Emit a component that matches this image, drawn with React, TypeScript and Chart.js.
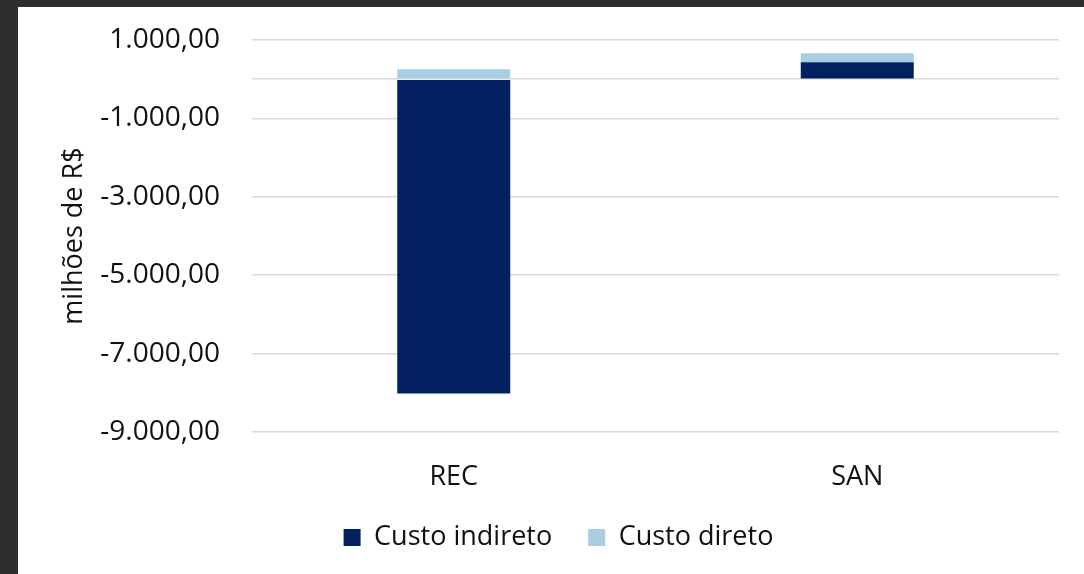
import React, { useEffect, useRef } from "react";
import { Chart, registerables } from "chart.js";

Chart.register(...registerables);

const categories = ["REC", "SAN"];
const custoIndireto = [-8020, 435];
const custoDireto = [255, 225];
const yTicks = [-9000, -7000, -5000, -3000, -1000, 0, 1000];

const FONT = "'Open Sans', 'Noto Sans', sans-serif";
const FS = 27;
const LEGEND_PAD = 36;

const fmt = (v: number) => {
  const s = Math.abs(v).toFixed(2).split(".");
  const int = s[0].replace(/\B(?=(\d{3})+(?!\d))/g, ".");
  return (v < 0 ? "-" : "") + int + "," + s[1];
};

const shiftLegend = {
  id: "shiftLegend",
  afterLayout(chart: any) {
    const l = chart.legend;
    if (l) {
      l.left += 20;
      l.right += 20;
    }
  },
};

export default function App() {
  const ref = useRef<HTMLCanvasElement | null>(null);
  useEffect(() => {
    if (!ref.current) return;
    const chart = new Chart(ref.current, {
      type: "bar",
      data: {
        labels: categories,
        datasets: [
          {
            label: "Custo indireto",
            data: custoIndireto,
            backgroundColor: "#002060",
            categoryPercentage: 1,
            barPercentage: 0.28,
          },
          {
            label: "Custo direto",
            data: custoDireto,
            backgroundColor: "#a9cee3",
            categoryPercentage: 1,
            barPercentage: 0.28,
          },
        ],
      },
      plugins: [shiftLegend],
      options: {
        animation: false,
        responsive: false,
        maintainAspectRatio: false,
        layout: { padding: { top: 33, right: 25, left: 0, bottom: 13 } },
        plugins: {
          tooltip: { enabled: false },
          legend: {
            position: "bottom",
            labels: {
              font: { family: FONT, size: FS },
              color: "#111",
              boxWidth: 17,
              boxHeight: 17,
              padding: LEGEND_PAD,
            },
          },
        },
        scales: {
          x: {
            stacked: true,
            grid: { display: false, drawTicks: false },
            border: { display: false },
            ticks: { font: { family: FONT, size: FS }, color: "#111", padding: 29 },
            afterFit: (scale: any) => {
              scale.height = 56;
            },
          },
          y: {
            stacked: true,
            min: -9000,
            max: 1000,
            afterBuildTicks: (scale: any) => {
              scale.ticks = yTicks.map((v) => ({ value: v }));
            },
            afterFit: (scale: any) => {
              scale.width = 234;
              scale.paddingTop = 0;
              scale.paddingBottom = 0;
            },
            grid: { color: "#d9d9d9", lineWidth: 1.5, drawTicks: false },
            border: { display: false },
            ticks: {
              font: { family: FONT, size: 28 },
              color: "#111",
              padding: 32,
              callback: (v: any) => (Number(v) === 0 ? "" : fmt(Number(v))),
            },
            title: {
              display: true,
              text: "milhões de R$",
              font: { family: FONT, size: 27 },
              color: "#111",
              padding: { top: 40, bottom: 0 },
            },
          },
        },
      },
    });
    return () => chart.destroy();
  }, []);
  return (
    <div style={{ position: "absolute", left: 0, top: 0, width: 1084, height: 574, background: "#2e2e2e" }}>
      <div style={{ position: "absolute", left: 18, top: 7, width: 1066, height: 567, background: "#fff" }}>
        <canvas ref={ref} width={1066} height={567} style={{ display: "block" }} />
      </div>
    </div>
  );
}
